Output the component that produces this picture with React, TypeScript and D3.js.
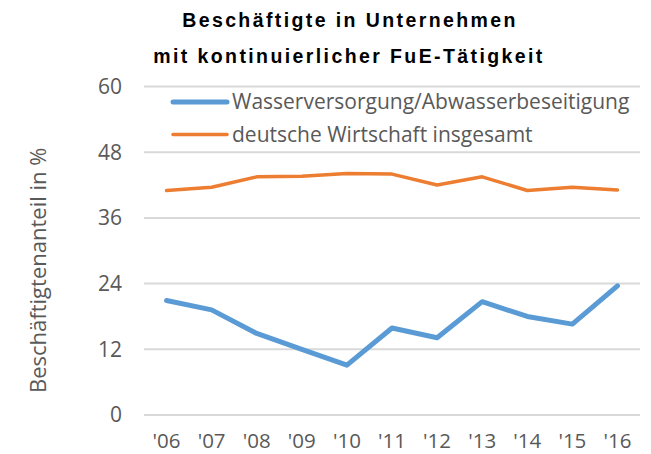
import React from "react";
import * as d3 from "d3";

const years = ["'06", "'07", "'08", "'09", "'10", "'11", "'12", "'13", "'14", "'15", "'16"];
const wasser = [20.9, 19.2, 14.9, 12.0, 9.1, 15.9, 14.1, 20.7, 18.0, 16.6, 23.6];
const gesamt = [41.0, 41.6, 43.5, 43.6, 44.1, 44.0, 42.0, 43.5, 41.0, 41.6, 41.1];
const yTicks = [0, 12, 24, 36, 48, 60];
const series = [
  { name: "Wasserversorgung/Abwasserbeseitigung", values: wasser, color: "#5B9BD5", width: 5 },
  { name: "deutsche Wirtschaft insgesamt", values: gesamt, color: "#ED7D31", width: 3.5 },
];

const W = 651, H = 454;
const margin = { top: 86.5, right: 11, bottom: 39, left: 144 };
const labelFont = "'Open Sans', sans-serif";

export default function App() {
  const x = d3.scaleBand().domain(years).range([margin.left, W - margin.right]);
  const y = d3.scaleLinear().domain([0, 60]).range([H - margin.bottom, margin.top]);
  const cx = (d: string) => (x(d) as number) + x.bandwidth() / 2;
  const line = d3.line<number>().x((_, i) => cx(years[i])).y(v => y(v));

  return (
    <svg width={W} height={H} style={{ position: "absolute", left: 0, top: 0 }}>
      <rect width={W} height={H} fill="#fff" />
      {/* title */}
      <g fontFamily="'Liberation Sans', Arial, sans-serif" fontWeight="bold" fontSize={19.5} fill="#000"
        textAnchor="middle" letterSpacing={2.4}>
        <text x={350} y={26.5}>Beschäftigte in Unternehmen</text>
        <text x={349} y={63}>mit kontinuierlicher FuE-Tätigkeit</text>
      </g>
      {/* grid */}
      {yTicks.map(t => (
        <line key={t} x1={margin.left} x2={W - margin.right} y1={y(t)} y2={y(t)} stroke="#D9D9D9" strokeWidth={2} />
      ))}
      {/* y ticks */}
      <g fontFamily={labelFont} fontSize={21} fill="#595959" textAnchor="end">
        {yTicks.map(t => (
          <text key={t} x={122} y={y(t)} dy="0.35em">{t}</text>
        ))}
      </g>
      {/* x ticks */}
      <g fontFamily={labelFont} fontSize={20.5} fill="#595959" textAnchor="middle">
        {years.map(d => (
          <text key={d} x={cx(d)} y={448}>{d}</text>
        ))}
      </g>
      {/* y label */}
      <text transform="translate(46,393) rotate(-90)" textAnchor="start"
        fontFamily={labelFont} fontSize={22} fill="#595959">Beschäftigtenanteil in %</text>
      {/* lines */}
      {series.map(s => (
        <path key={s.name} d={line(s.values) ?? ""} fill="none" stroke={s.color} strokeWidth={s.width}
          strokeLinejoin="round" strokeLinecap="round" />
      ))}
      {/* legend */}
      {series.map((s, i) => (
        <g key={s.name} transform={`translate(0,${102 + i * 32.5})`}>
          <line x1={173} x2={227} stroke={s.color} strokeWidth={s.width} strokeLinecap="round" />
          <text x={232} dy="0.35em" fontFamily={labelFont} fontSize={21} fill="#595959">{s.name}</text>
        </g>
      ))}
    </svg>
  );
}
